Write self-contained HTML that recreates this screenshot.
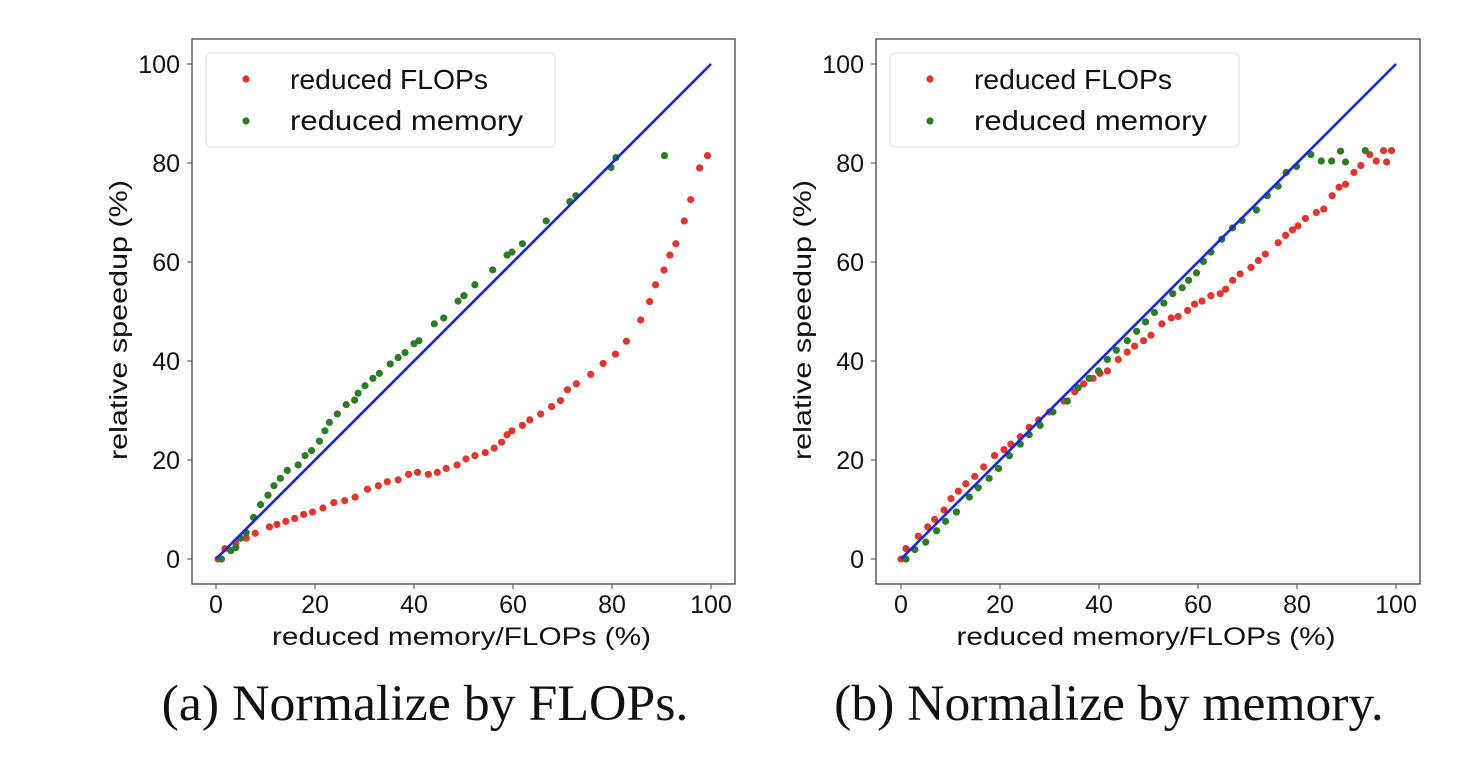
<!DOCTYPE html>
<html><head><meta charset="utf-8"><style>
body{margin:0;background:#fff;width:1471px;height:767px;overflow:hidden}
svg{display:block}
.t{font-family:"Liberation Sans",sans-serif;font-size:25px;fill:#111}
.cap{font-family:"Liberation Serif",serif;font-size:51px;fill:#111}
</style></head><body>
<svg id="chart" width="1471" height="767"></svg>
<script>
const ticks=[0,20,40,60,80,100];
const tickLabels=["0","20","40","60","80","100"];
const aRedX=[0.4,1.8,4,6.1,7.9,10.8,12.3,14.1,15.9,17.7,19.5,21.6,23.8,26,28.1,30.6,32.8,34.6,36.8,38.9,40.7,42.9,44.7,46.5,48.7,50.5,52.3,54.4,56.2,57.7,58.8,59.8,61.9,63.4,65.6,67.8,69.6,71,72.8,75.7,78.2,80.7,82.9,85.8,87.6,88.8,90.5,91.7,92.9,94.6,95.9,97.7,99.3];
const aRedY=[0,2.1,3.2,4.2,5.2,6.5,7,7.6,8.2,9,9.5,10.3,11.4,11.8,12.5,14.1,14.8,15.6,16,17.1,17.5,17.1,17.5,18.3,19,20.2,20.9,21.5,22.4,23.6,25.1,25.9,27,28.1,29.3,30.8,32,34.2,35.4,37.3,39.5,41.4,44,48.3,52,55.4,58.4,61.4,63.7,68.3,72.6,79,81.5];
const aGreenX=[1.1,3,4,5,6.1,7.6,9,10.5,11.7,13,14.4,16.6,18,19.3,20.9,22,22.9,24.5,26.3,28,28.7,30.1,31.7,33,35.2,36.8,38.2,40,41,44.1,46,48.9,50.1,52.3,55.9,58.8,59.8,61.9,66.7,71.5,72.7,79.8,80.8,90.6];
const aGreenY=[0,1.7,2.3,4.2,5.3,8.4,11,12.9,14.8,16.3,17.9,19,20.9,21.9,23.8,25.9,27.6,29.3,31.2,32.1,33.5,35,36.5,37.5,39.4,40.7,41.7,43.5,44.1,47.5,48.7,52.1,53.2,55.4,58.4,61.4,62,63.7,68.3,72.2,73.4,79.1,81.1,81.5];
const bRedX=[0,1,3.5,5.4,6.8,8.7,10.1,11.6,13.1,14.9,16.7,18.9,20.8,22.2,24.1,25.9,27.8,30,32.9,35.1,36.9,38.8,40.2,41.7,43.9,45.7,47.2,49,50.5,52.7,54.6,56,57.9,59.3,60.8,62.6,64.5,65.6,67,68.5,70.7,72.2,73.6,76.2,77.7,79.1,80.2,81.7,83.9,85.4,87.1,88.5,89.8,91.5,92.9,94.7,96,97.5,98.1,99.1];
const bRedY=[0,2.1,4.6,6.5,8,9.9,12.2,13.7,15.2,16.7,18.6,20.9,22.1,23.2,24.7,26.6,28.1,29.7,31.9,33.8,35.4,36.5,37.5,38,40.3,41.8,43,44.1,45.2,47.5,48.7,49,50.2,51.5,52.1,53.2,53.6,54.5,56.3,57.6,58.9,60.3,61.6,63.9,65.4,66.5,67.3,68.8,70,70.7,73.4,75.1,75.7,78.1,79.5,81.7,80.4,82.5,80.2,82.5];
const bGreenX=[1,2.8,5,7.2,9,11.2,13.8,15.6,17.8,19.7,21.9,24.1,25.9,28.1,30.7,33.6,35.8,38,39.9,41.7,43.5,45.7,47.6,49.4,51.2,53.1,54.9,56.8,58.1,59.7,61.1,62.6,64.8,67,68.9,71.8,74,76.2,77.8,79.9,82.8,84.9,87,88.8,89.8,93.8];
const bGreenY=[0,1.9,3.4,5.7,7.6,9.5,12.5,14.4,16.3,18.3,20.9,23.2,25.1,27,29.7,31.9,34.6,36.5,38,40.3,42.2,44.1,46,47.9,49.8,51.7,53.6,54.8,56.3,57.8,60.1,62,64.6,66.9,68.4,70.5,73.4,75.3,78.1,79.3,81.7,80.4,80.4,82.4,80.2,82.5];

const NS="http://www.w3.org/2000/svg";
const svg=document.getElementById('chart');
function el(tag,attrs,parent,text){const e=document.createElementNS(NS,tag);for(const k in attrs)e.setAttribute(k,attrs[k]);if(text!==undefined)e.textContent=text;(parent||svg).appendChild(e);return e;}

function panel(id,box,x0,x100,redX,redY,greenX,greenY,caption,capX){
  const g=el('g',{});
  
  
  const y0=559,y100=64;
  const sx=v=>x0+(x100-x0)*v/100, sy=v=>y0+(y100-y0)*v/100;
  const frame=el('rect',{x:box[0],y:39,width:box[1]-box[0],height:545,fill:'none',stroke:'#444','stroke-width':1.3},g);
  
  
  ticks.forEach((t,i)=>{
    el('line',{x1:sx(t),x2:sx(t),y1:584,y2:589,stroke:'#444'},g);
    const xl=el('text',{x:sx(t),y:613,'text-anchor':'middle',class:'t'},g,tickLabels[i]);
    
    
    el('line',{x1:box[0]-5,x2:box[0],y1:sy(t),y2:sy(t),stroke:'#444'},g);
    const yl=el('text',{x:box[0]-12,y:sy(t)+9,'text-anchor':'end',class:'t'},g,tickLabels[i]);
    
    
  });
  const xt=el('text',{x:(box[0]+box[1])/2-2,y:645,'text-anchor':'middle',class:'t',textLength:379,lengthAdjust:'spacingAndGlyphs'},g,'reduced memory/FLOPs (%)');
  
  
  const yx=box[0]-65;
  const yt=el('text',{x:yx,y:320,'text-anchor':'middle',class:'t',textLength:280,lengthAdjust:'spacingAndGlyphs',transform:`rotate(-90 ${yx} 320)`},g,'relative speedup (%)');
  
  
  redX.forEach((v,i)=>{const c=el('circle',{cx:sx(v),cy:sy(redY[i]),r:3.6,fill:'#e8332a'},g);
    
    });
  greenX.forEach((v,i)=>{const c=el('circle',{cx:sx(v),cy:sy(greenY[i]),r:3.6,fill:'#2a7d22'},g);
    
    });
  const ln=el('line',{x1:sx(0),y1:sy(0),x2:sx(100),y2:sy(100),stroke:'#1428e0','stroke-width':2.6},g);
  
  
  const lg=el('g',{},g);
  
  
  const lx=box[0]+14;
  el('rect',{x:lx,y:53,width:349,height:94,rx:5,fill:'#fff',stroke:'#ddd'},lg);
  el('circle',{cx:lx+40,cy:79,r:3.6,fill:'#e8332a'},lg);
  el('circle',{cx:lx+40,cy:121,r:3.6,fill:'#2a7d22'},lg);
  const l1=el('text',{x:lx+84,y:89,class:'t',style:'font-size:28px',textLength:198,lengthAdjust:'spacingAndGlyphs'},lg,'reduced FLOPs');
  
  
  const l2=el('text',{x:lx+84,y:130,class:'t',style:'font-size:28px',textLength:233,lengthAdjust:'spacingAndGlyphs'},lg,'reduced memory');
  
  
  const cp=el('text',{x:capX,y:720,'text-anchor':'middle',class:'cap',textLength:caption.length*22.9,lengthAdjust:'spacingAndGlyphs'},g,caption);
  
  
}
panel('panel-a',[192,735],216,711,aRedX,aRedY,aGreenX,aGreenY,'(a) Normalize by FLOPs.',425);
panel('panel-b',[876,1420],901,1396,bRedX,bRedY,bGreenX,bGreenY,'(b) Normalize by memory.',1109);
</script>
</body></html>
